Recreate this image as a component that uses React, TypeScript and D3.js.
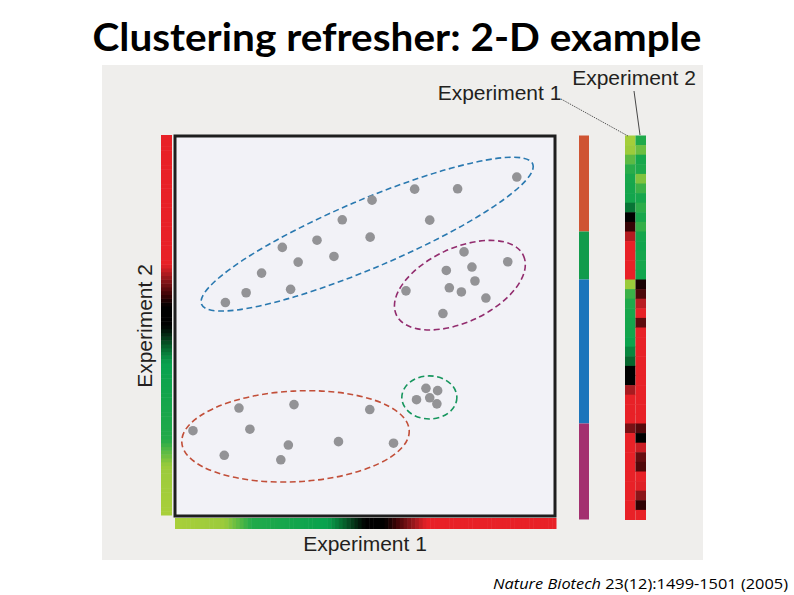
import React from "react";
import * as d3 from "d3";

// ---- Data (both experiments on a 0..100 expression scale) ----
const clusterNames = ["red", "green", "blue", "magenta"];
const clusterStroke = ["#c24f39", "#17965e", "#2a79b0", "#922c6e"];
const clusterBar = ["#cf5433", "#129b4c", "#1b75bb", "#a3306f"];

const redX = [16.7, 31.3, 51.4, 4.5, 19.6, 29.8, 43.1, 57.7, 12.8, 27.8];
const redY = [28.3, 29.2, 27.9, 22.3, 22.7, 18.5, 19.4, 19.0, 15.8, 14.6];

const greenX = [66.3, 69.4, 67.3, 63.8, 69.2];
const greenY = [33.5, 32.9, 31.0, 30.5, 29.4];

const blueX = [90.4, 74.7, 63.3, 52.0, 44.1, 67.3, 37.4, 51.5, 28.2, 32.4, 41.9, 22.7, 18.6, 30.4, 13.1];
const blueY = [89.4, 86.3, 86.2, 83.3, 78.1, 78.0, 72.7, 73.5, 70.8, 66.9, 68.4, 64.0, 58.8, 59.7, 56.2];

const magentaX = [76.4, 78.5, 88.0, 71.7, 79.3, 61.0, 72.5, 75.7, 82.2, 70.8];
const magentaY = [69.6, 65.6, 67.0, 64.7, 61.9, 59.3, 60.1, 59.0, 57.4, 53.3];

// cluster outlines: centre, semi-axes, tilt (degrees)
const ellipseCx = [31.7, 67.2, 50.7, 75.3];
const ellipseCy = [20.8, 31.1, 74.3, 60.8];
const ellipseRx = [30.2, 7.3, 47.7, 18.6];
const ellipseRy = [12.0, 5.7, 9.0, 9.8];
const ellipseAngle = [-3, 0, -23, -25];

// expression colour map (green -> black -> red)
const gradStops = [0, 13, 20, 40, 44, 48, 50, 55, 58, 63, 66, 100];
const gradColors = ["#a8cf3a", "#9ccb3b", "#22aa4a", "#08a24e", "#07682f", "#02200e", "#000000", "#000000", "#3c0305", "#a11a1f", "#e82127", "#e82127"];

const title = "Clustering refresher: 2-D example";
const xLabel = "Experiment 1";
const yLabel = "Experiment 2";

type Pt = { x: number; y: number; c: number };

export default function App() {
  const W = 794, H = 595;
  const xs = [redX, greenX, blueX, magentaX];
  const ys = [redY, greenY, blueY, magentaY];
  const points: Pt[] = [];
  xs.forEach((arr, c) => arr.forEach((v, i) => points.push({ x: v, y: ys[c][i], c })));

  const x = d3.scaleLinear().domain([0, 100]).range([176, 553]);
  const y = d3.scaleLinear().domain([0, 100]).range([515, 137]);
  const color = d3.scaleLinear<string>().domain(gradStops).range(gradColors).interpolate(d3.interpolateRgb).clamp(true);

  // heatmap rows: grouped by cluster, sorted by Experiment 1 within cluster
  const rows = clusterNames.flatMap((_, c) =>
    points.filter((p) => p.c === c).sort((a, b) => a.x - b.x)
  );
  const rowScale = d3.scaleBand<number>().domain(d3.range(rows.length)).range([135.5, 519.5]);
  const colScale = d3.scaleBand<number>().domain([0, 1]).range([625, 646]);

  const steps = d3.range(0, 100, 1);
  const barX = d3.scaleLinear().domain([0, 100]).range([175, 556]);
  const barY = d3.scaleLinear().domain([0, 100]).range([515, 135]);

  const textColor = "#231f20";
  const font = "'Liberation Sans', Arial, sans-serif";

  let start = 0;
  const clusterSegments = clusterNames.map((_, c) => {
    const n = xs[c].length;
    const s = start;
    start += n;
    return { c, s, n };
  });

  return (
    <svg width={W} height={H} style={{ position: "absolute", left: 0, top: 0 }} xmlns="http://www.w3.org/2000/svg">
      <rect x={0} y={0} width={W} height={H} fill="#ffffff" />
      <text x={397} y={51} textAnchor="middle" fontFamily="Lato, 'Open Sans', sans-serif" fontWeight={700} fontSize={39} fill="#000" textLength={609} lengthAdjust="spacingAndGlyphs">
        {title}
      </text>

      <rect x={102} y={65} width={601} height={495} fill="#efeeec" />

      {/* Experiment 2 colour bar (left) */}
      {steps.map((v) => (
        <rect key={"l" + v} x={161} y={barY(v + 1)} width={11} height={barY(v) - barY(v + 1) + 0.5} fill={color(v + 0.5)} />
      ))}
      {/* Experiment 1 colour bar (bottom) */}
      {steps.map((v) => (
        <rect key={"b" + v} x={barX(v)} y={518} width={barX(v + 1) - barX(v) + 0.5} height={11} fill={color(v + 0.5)} />
      ))}

      {/* plot box */}
      <rect x={175} y={136} width={380} height={380} fill="#f2f2f7" stroke="#1e1e1e" strokeWidth={3} />

      {/* cluster outlines */}
      {ellipseCx.map((cx, i) => (
        <ellipse
          key={"e" + i}
          cx={x(cx)}
          cy={y(ellipseCy[i])}
          rx={x(cx + ellipseRx[i]) - x(cx)}
          ry={y(ellipseCy[i]) - y(ellipseCy[i] + ellipseRy[i])}
          transform={`rotate(${ellipseAngle[i]} ${x(cx)} ${y(ellipseCy[i])})`}
          fill="none"
          stroke={clusterStroke[i]}
          strokeWidth={1.6}
          strokeDasharray="6 3.5"
        />
      ))}

      {/* points */}
      {points.map((p, i) => (
        <circle key={"p" + i} cx={x(p.x)} cy={y(p.y)} r={4.8} fill="#939396" />
      ))}

      {/* cluster membership bar */}
      {clusterSegments.map(({ c, s, n }) => (
        <rect key={"cb" + c} x={579} y={rowScale(s)!} width={10} height={rowScale.bandwidth() * n} fill={clusterBar[c]} />
      ))}

      {/* heatmap */}
      {rows.map((p, i) => (
        <g key={"h" + i}>
          <rect x={colScale(0)!} y={rowScale(i)!} width={colScale.bandwidth()} height={rowScale.bandwidth() + 0.5} fill={color(p.x)} />
          <rect x={colScale(1)!} y={rowScale(i)!} width={colScale.bandwidth()} height={rowScale.bandwidth() + 0.5} fill={color(p.y)} />
        </g>
      ))}

      {/* labels */}
      <text x={365} y={551} textAnchor="middle" fontFamily={font} fontSize={21} fill={textColor}>{xLabel}</text>
      <text transform="translate(152,326) rotate(-90)" textAnchor="middle" fontFamily={font} fontSize={21} fill={textColor}>{yLabel}</text>
      <text x={499.5} y={100} textAnchor="middle" fontFamily={font} fontSize={21} fill={textColor}>{xLabel}</text>
      <text x={634} y={85} textAnchor="middle" fontFamily={font} fontSize={21} fill={textColor}>{yLabel}</text>
      <line x1={561} y1={99} x2={628} y2={136} stroke="#333" strokeWidth={0.8} strokeDasharray="1.5 1" />
      <line x1={634} y1={91} x2={640} y2={135} stroke="#333" strokeWidth={0.9} />

      {/* citation */}
      <text x={493} y={589} fontFamily="'Open Sans', 'Noto Sans', sans-serif" fontSize={14.5} fill="#000" textLength={295} lengthAdjust="spacingAndGlyphs">
        <tspan fontStyle="italic">Nature Biotech</tspan>
        <tspan> 23(12):1499-1501 (2005)</tspan>
      </text>
    </svg>
  );
}
